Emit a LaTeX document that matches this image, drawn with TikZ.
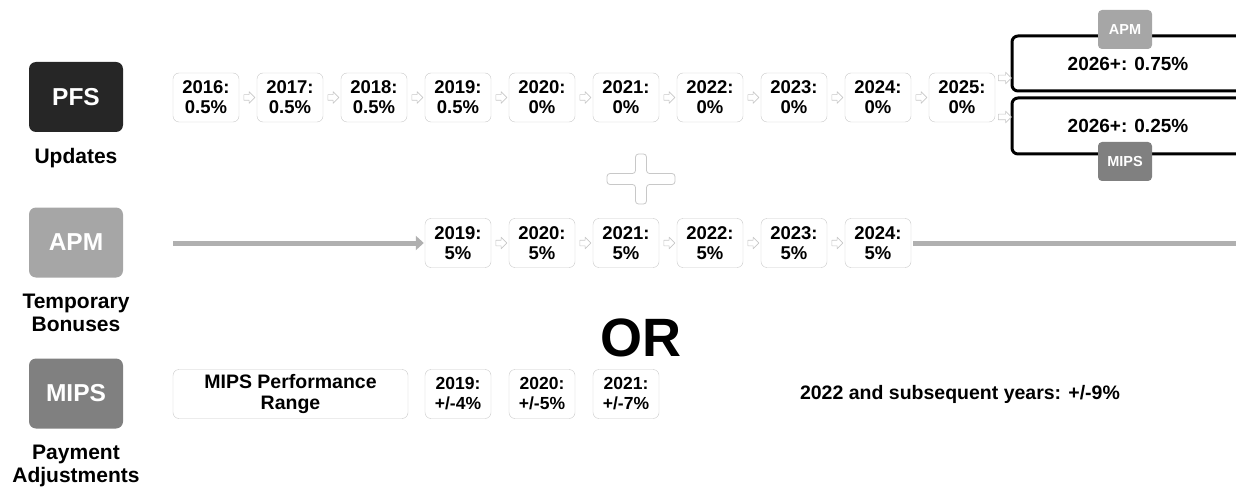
\documentclass[tikz,border=0pt]{standalone}
\usepackage{fontspec}
\setmainfont{Liberation Sans}
\usetikzlibrary{arrows.meta,positioning,shapes.arrows}

\definecolor{pfsdark}{HTML}{262626}
\definecolor{apmgray}{HTML}{A6A6A6}
\definecolor{mipsgray}{HTML}{808080}
\definecolor{boxgray}{HTML}{C8C8C8}
\definecolor{linegray}{HTML}{B0B0B0}

\begin{document}
\begin{tikzpicture}[
    x=1pt, y=-1pt,
    line join=round,
    catbox/.style={rounded corners=7pt, minimum width=94pt, minimum height=70pt,
      text=white, font=\fontsize{24.5}{28}\selectfont\bfseries},
    catlabel/.style={align=center, inner sep=0pt, font=\fontsize{21}{23}\selectfont\bfseries},
    yearbox/.style={draw=boxgray, rounded corners=6pt, minimum width=66pt,
      minimum height=49pt, inner sep=1pt, align=center,
      font=\fontsize{18.5}{20}\selectfont\bfseries},
    hollowarr/.style={single arrow, draw=boxgray, fill=white, line width=0.6pt,
      inner sep=2.5pt, minimum height=11pt, single arrow head extend=3pt},
    finalbox/.style={draw=black, line width=3pt, rounded corners=6pt,
      minimum width=232pt, minimum height=55pt},
    badge/.style={rounded corners=4pt, minimum width=54pt, minimum height=39pt,
      text=white, font=\fontsize{14.5}{16}\selectfont\bfseries},
    bigtext/.style={font=\fontsize{19}{22}\selectfont\bfseries},
    apmline/.style={draw=linegray, line width=5pt},
  ]

  \useasboundingbox (0,0) rectangle (1236,489);
  \clip (0,0) rectangle (1236,489);

  % ---------- category boxes (left column) ----------
  \node[catbox, fill=pfsdark] (pfs) at (76,97) {PFS};
  \node[catlabel, below=16pt of pfs] (pfslab) {Updates};
  \node[catbox, fill=apmgray] (apm) at (76,242.5) {APM};
  \node[catlabel, below=16pt of apm] (apmlab) {Temporary\\Bonuses};
  \node[catbox, fill=mipsgray] (mips) at (76,393.5) {MIPS};
  \node[catlabel, below=16pt of mips] (mipslab) {Payment\\Adjustments};

  % ---------- PFS updates row ----------
  \foreach \yr/\val [count=\i from 0] in {2016/0.5,2017/0.5,2018/0.5,2019/0.5,
      2020/0,2021/0,2022/0,2023/0,2024/0,2025/0}
    \node[yearbox] (p\yr) at ({206+84*\i},97.5) {\yr:\\\val\%};
  \foreach \a/\b in {2016/2017,2017/2018,2018/2019,2019/2020,2020/2021,
      2021/2022,2022/2023,2023/2024,2024/2025}
    \path (p\a) -- (p\b) node[midway, hollowarr] (pa\a) {};

  % 2026 onwards: two tracks
  \node[finalbox] (apm26box) at (1128,63.5) {};
  \node[bigtext] (apm26) at (1128,63.5) {2026+: 0.75\%};
  \node[badge, fill=apmgray] (apmbadge) at (1125,29.5) {APM};
  \node[finalbox, minimum height=56pt] (mips26box) at (1128,126) {};
  \node[bigtext] (mips26) at (1128,126) {2026+: 0.25\%};
  \node[badge, fill=mipsgray] (mipsbadge) at (1125,161.5) {MIPS};
  \node[hollowarr, minimum height=13pt] (toapm) at (1003.5,78) {};
  \node[hollowarr, minimum height=13pt] (tomips) at (1003.5,117) {};

  % ---------- plus sign ----------
  \def\pcx{641}\def\pcy{179}\def\arm{5.5}
  \draw[boxgray, fill=white, line width=0.8pt, rounded corners=3pt]
    (\pcx-\arm,\pcy-25) -- (\pcx+\arm,\pcy-25) -- (\pcx+\arm,\pcy-\arm)
    -- (\pcx+34,\pcy-\arm) -- (\pcx+34,\pcy+\arm) -- (\pcx+\arm,\pcy+\arm)
    -- (\pcx+\arm,\pcy+25) -- (\pcx-\arm,\pcy+25) -- (\pcx-\arm,\pcy+\arm)
    -- (\pcx-34,\pcy+\arm) -- (\pcx-34,\pcy-\arm) -- (\pcx-\arm,\pcy-\arm) -- cycle;

  % ---------- APM bonus row ----------
  \foreach \yr [count=\i from 3] in {2019,2020,2021,2022,2023,2024}
    \node[yearbox] (a\yr) at ({206+84*\i},243) {\yr:\\5\%};
  \foreach \a/\b in {2019/2020,2020/2021,2021/2022,2022/2023,2023/2024}
    \path (a\a) -- (a\b) node[midway, hollowarr] (aa\a) {};
  \coordinate (apmstart) at (173,243);
  \coordinate (apmend) at (1240,243);
  \draw[apmline, -{Triangle[length=8pt, width=14pt]}] (apmstart) -- ([xshift=-1pt]a2019.west);
  \draw[apmline] ([xshift=2pt]a2024.east) -- (apmend);

  % ---------- OR ----------
  \node[font=\fontsize{54}{60}\selectfont\bfseries] (ortext) at (641,338) {OR};

  % ---------- MIPS row ----------
  \node[yearbox, minimum width=235pt, font=\fontsize{19.5}{21}\selectfont\bfseries]
    (mrange) at (290.5,394) {MIPS Performance\\Range};
  \foreach \yr/\val [count=\i from 3] in {2019/4,2020/5,2021/7}
    \node[yearbox, font=\fontsize{17.5}{20}\selectfont\bfseries] (m\yr) at ({206+84*\i},394) {\yr:\\+/-\val\%};
  \node[font=\fontsize{19.5}{22}\selectfont\bfseries, anchor=base] (mlater) at (960,399)
    {2022 and subsequent years: +/-9\%};

\end{tikzpicture}
\end{document}
